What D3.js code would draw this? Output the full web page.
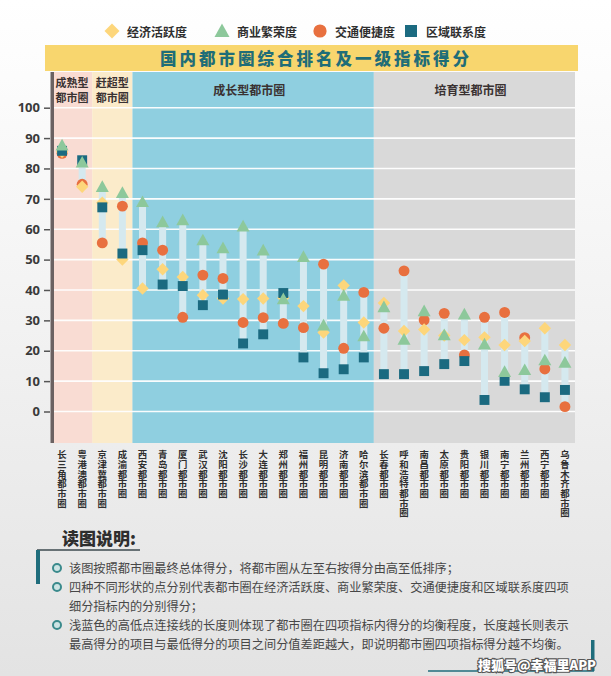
<!DOCTYPE html>
<html><head><meta charset="utf-8">
<script src="https://cdn.jsdelivr.net/npm/d3@7"></script>
<style>
html,body{margin:0;padding:0;background:#f4f4f4;}
svg{display:block;font-family:"Noto Sans CJK SC","Noto Sans",sans-serif;}
</style></head>
<body>
<svg id="c" width="611" height="676"></svg>
<script>
const cities = ['长三角都市圈','粤港澳都市圈','京津冀都市圈','成渝都市圈','西安都市圈','青岛都市圈','厦门都市圈','武汉都市圈','沈阳都市圈','长沙都市圈','大连都市圈','郑州都市圈','福州都市圈','昆明都市圈','济南都市圈','哈尔滨都市圈','长春都市圈','呼和浩特都市圈','南昌都市圈','太原都市圈','贵阳都市圈','银川都市圈','南宁都市圈','兰州都市圈','西宁都市圈','乌鲁木齐都市圈'];
const economic  = [85.5,74.0,68.7,50.0,40.5,46.8,44.3,38.3,37.2,37.0,37.2,37.4,34.7,26.0,41.5,29.3,35.7,26.5,27.0,25.0,23.5,24.4,21.9,23.2,27.4,21.9];
const commercial= [87.6,82.0,74.0,72.0,69.0,62.4,63.0,56.4,53.8,61.0,53.1,37.0,50.9,28.4,38.2,24.8,34.4,23.7,33.1,25.2,32.0,22.1,13.1,13.7,16.9,16.1];
const transport = [85.0,74.8,55.5,67.6,55.5,53.1,31.0,44.9,43.8,29.3,30.9,29.0,27.6,48.5,20.8,39.2,27.4,46.3,30.1,32.3,18.6,31.0,32.6,24.3,14.0,1.6];
const regional  = [85.8,82.7,67.2,52.0,53.1,41.8,41.3,35.0,38.5,22.4,25.4,39.0,17.8,12.6,13.9,17.8,12.3,12.3,13.3,15.6,16.6,3.8,10.1,7.3,4.7,7.1];
const seriesNames = ['经济活跃度','商业繁荣度','交通便捷度','区域联系度'];
const yTicks = [0,10,20,30,40,50,60,70,80,90,100];
const groupNames = [['成熟型','都市圈'],['赶超型','都市圈'],['成长型都市圈'],['培育型都市圈']];
const groupFirst = ['长三角都市圈','京津冀都市圈','西安都市圈','长春都市圈'];
const groupLast  = ['粤港澳都市圈','成渝都市圈','哈尔滨都市圈','乌鲁木齐都市圈'];
const chartTitle = '国内都市圈综合排名及一级指标得分';
const notesTitle = '读图说明:';
const notes = [
 ['该图按照都市圈最终总体得分，将都市圈从左至右按得分由高至低排序；'],
 ['四种不同形状的点分别代表都市圈在经济活跃度、商业繁荣度、交通便捷度和区域联系度四项','细分指标内的分别得分；'],
 ['浅蓝色的高低点连接线的长度则体现了都市圈在四项指标内得分的均衡程度，长度越长则表示','最高得分的项目与最低得分的项目之间分值差距越大，即说明都市圈四项指标得分越不均衡。']
];
const watermark = '搜狐号@幸福里APP';

const bandColors = ['#f9dcd3','#fbebca','#8fcfe0','#d9d9d9'];
const C = {dia:'#fdd67b', tri:'#8dc89b', cir:'#e8703f', sq:'#1b6a80'};

const svg = d3.select('#c');
const defs = svg.append('defs');
const bg = defs.append('linearGradient').attr('id','bg').attr('x1',0).attr('y1',0).attr('x2',0).attr('y2',1);
bg.append('stop').attr('offset','0%').attr('stop-color','#ffffff');
bg.append('stop').attr('offset','45%').attr('stop-color','#f3f3f3');
bg.append('stop').attr('offset','100%').attr('stop-color','#e3e3e3');
svg.append('rect').attr('width',611).attr('height',676).attr('fill','url(#bg)');

const x = d3.scaleBand().domain(cities).range([52,575]);
const y = d3.scaleLinear().domain([0,100]).range([411.5,107.7]);
const plotTop = 72, plotBottom = 443;

// bands
groupNames.forEach((g,i)=>{
  const x0 = i===0 ? 52 : x(groupFirst[i]);
  const x1 = x(groupLast[i]) + x.bandwidth();
  svg.append('rect').attr('x',x0).attr('y',plotTop).attr('width',x1-x0).attr('height',plotBottom-plotTop).attr('fill',bandColors[i]);
  if (g.length===2){
    g.forEach((line,j)=>{
      svg.append('text').attr('x',(x0+x1)/2).attr('y',82+j*14.5).attr('text-anchor','middle').attr('dominant-baseline','central')
        .attr('font-size',11).attr('font-weight',700).attr('fill','#3a3232').text(line);
    });
  } else {
    svg.append('text').attr('x',(x0+x1)/2-4).attr('y',89).attr('text-anchor','middle').attr('dominant-baseline','central')
      .attr('font-size',12).attr('font-weight',700).attr('fill','#3a3232').text(g[0]);
  }
});

// gridlines
svg.append('g').selectAll('line').data(yTicks).join('line')
  .attr('x1',54).attr('x2',575).attr('y1',d=>y(d)).attr('y2',d=>y(d))
  .attr('stroke','#ffffff').attr('stroke-width',1.6).attr('opacity',0.95);

// axis
const ax = svg.append('g').attr('transform','translate(50,0)')
  .call(d3.axisLeft(y).tickValues(yTicks).tickSize(6).tickPadding(4));
ax.select('.domain').remove();
ax.selectAll('.tick line').attr('stroke','#555').attr('stroke-width',1.5);
ax.selectAll('.tick text').attr('font-size',13).attr('font-weight',700).attr('fill','#3a3a3a')
  .attr('font-family','"Open Sans",sans-serif');
svg.append('rect').attr('x',50.5).attr('y',plotTop).attr('width',3.5).attr('height',plotBottom-plotTop).attr('fill','#6b6262');

// title bar
svg.append('rect').attr('x',45).attr('y',45).attr('width',533).attr('height',26).attr('fill','#f8d66e');
svg.append('text').attr('x',316).attr('y',58).attr('text-anchor','middle').attr('dominant-baseline','central')
  .attr('font-size',16.5).attr('font-weight',900).attr('letter-spacing',3).attr('fill','#1f6d78').text(chartTitle);

// legend
const legX = [112,222,320,411];
const legG = svg.append('g');
function marker(g, type, cx, cy, s){
  if(type===0) g.append('path').attr('d',`M${cx},${cy-s}L${cx+s},${cy}L${cx},${cy+s}L${cx-s},${cy}Z`).attr('fill',C.dia);
  if(type===1) g.append('path').attr('d',`M${cx},${cy-s}L${cx+s*1.0},${cy+s*0.8}L${cx-s*1.0},${cy+s*0.8}Z`).attr('fill',C.tri);
  if(type===2) g.append('circle').attr('cx',cx).attr('cy',cy).attr('r',s*0.88).attr('fill',C.cir);
  if(type===3) g.append('rect').attr('x',cx-s*0.8).attr('y',cy-s*0.8).attr('width',s*1.6).attr('height',s*1.6).attr('fill',C.sq);
}
seriesNames.forEach((n,i)=>{
  marker(legG,i,legX[i],31,7.5);
  legG.append('text').attr('x',legX[i]+15).attr('y',31).attr('dominant-baseline','central')
    .attr('font-size',12).attr('font-weight',700).attr('fill','#2f2f2f').text(n);
});

// data rows
const rows = cities.map((c,i)=>({c, v:[economic[i],commercial[i],transport[i],regional[i]]}));
const cx = d=>x(d.c)+x.bandwidth()/2;
svg.append('g').selectAll('rect').data(rows).join('rect')
  .attr('x',d=>cx(d)-3.5).attr('width',7)
  .attr('y',d=>y(d3.max(d.v))).attr('height',d=>y(d3.min(d.v))-y(d3.max(d.v)))
  .attr('fill','#d5e9ef');
const mg = svg.append('g');
const order = [2,0,3,1];
rows.forEach(d=>{
  order.forEach(k=>{
    marker(mg,k,cx(d),y(d.v[k]), k===1?6.5:6.2);
  });
});

// x labels: one upright character per text, stacked vertically
const lab = svg.append('g');
cities.forEach(c=>{
  [...c].forEach((ch,j)=>{
    lab.append('text').attr('x',x(c)+x.bandwidth()/2).attr('y',450+j*9.7)
      .style('writing-mode','vertical-rl').style('text-orientation','upright')
      .attr('font-size',9.4).attr('font-weight',700).attr('fill','#2f2f2f').text(ch);
  });
});

// notes
svg.append('text').attr('x',62).attr('y',545).attr('font-size',17).attr('font-weight',900).attr('fill','#2e2e2e').text(notesTitle);
svg.append('line').attr('x1',37).attr('x2',140).attr('y1',550).attr('y2',550).attr('stroke','#3d4a4f').attr('stroke-width',1.5);
svg.append('rect').attr('x',36).attr('y',550).attr('width',4).attr('height',34).attr('fill','#1f6d7c');
let ly = 568;
notes.forEach(lines=>{
  svg.append('circle').attr('cx',57).attr('cy',ly).attr('r',4).attr('fill','#cde4e4').attr('stroke','#3a8a8c').attr('stroke-width',2);
  lines.forEach(l=>{
    svg.append('text').attr('x',69).attr('y',ly).attr('dominant-baseline','central').attr('font-size',12.2).attr('fill','#474747').text(l);
    ly += 19;
  });
});
svg.append('rect').attr('x',591).attr('y',640).attr('width',3.5).attr('height',31).attr('fill','#1f6d7c');
svg.append('line').attr('x1',428).attr('x2',594).attr('y1',671).attr('y2',671).attr('stroke','#1f6d7c').attr('stroke-width',1.5);
svg.append('text').attr('x',596).attr('y',664.5).attr('text-anchor','end').attr('dominant-baseline','central')
  .attr('font-size',13).attr('font-weight',900).attr('fill','#ffffff').attr('stroke','#555').attr('stroke-width',2.2)
  .attr('paint-order','stroke').text(watermark);
</script>
</body></html>
